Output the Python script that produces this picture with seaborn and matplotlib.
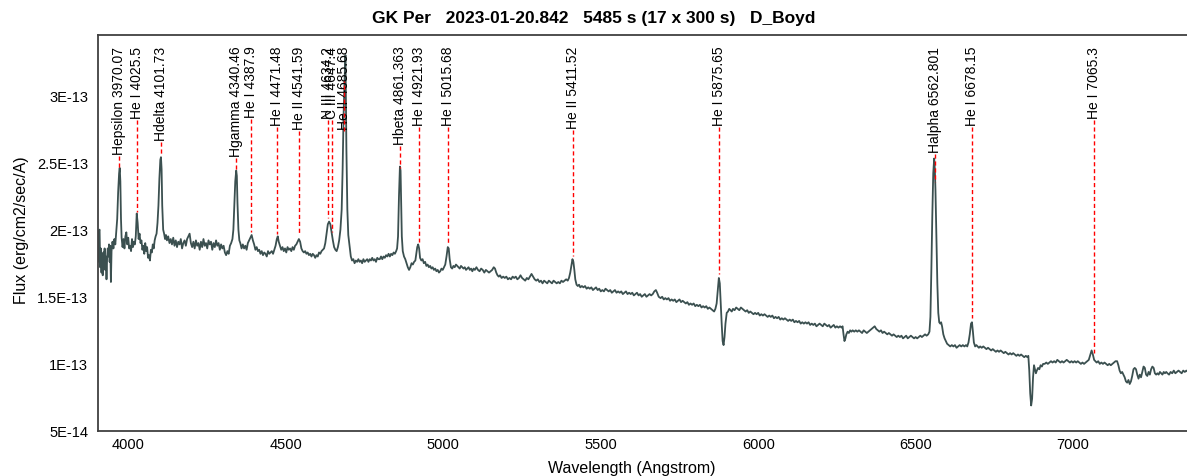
import numpy as np
import matplotlib
matplotlib.use("Agg")
import matplotlib.pyplot as plt
from matplotlib.ticker import FixedLocator, FixedFormatter, MultipleLocator
import seaborn as sns

# Spectrum of GK Per (wavelength in Angstrom, flux in units of 1E-13 erg/cm2/sec/A)
WAVELENGTH = [
    3903, 3905, 3908, 3910, 3912, 3914, 3916, 3918, 3920, 3922, 3924, 3926, 3928, 3930, 3932, 3934,
    3936, 3938, 3940, 3942, 3944, 3946, 3949, 3952, 3955, 3958, 3961, 3964, 3967, 3970, 3972, 3974,
    3976, 3978, 3981, 3984, 3987, 3990, 3993, 3996, 3999, 4002, 4005, 4008, 4011, 4014, 4017, 4020,
    4023, 4026, 4029, 4032, 4035, 4038, 4041, 4044, 4047, 4050, 4053, 4056, 4059, 4062, 4065, 4068,
    4071, 4074, 4077, 4080, 4083, 4086, 4089, 4092, 4095, 4098, 4101, 4103, 4105, 4107, 4110, 4113,
    4116, 4119, 4122, 4126, 4130, 4134, 4138, 4142, 4146, 4150, 4154, 4158, 4162, 4166, 4170, 4174,
    4178, 4182, 4186, 4190, 4194, 4198, 4202, 4206, 4210, 4214, 4218, 4222, 4226, 4230, 4234, 4238,
    4242, 4246, 4250, 4254, 4258, 4262, 4266, 4270, 4274, 4278, 4282, 4286, 4290, 4294, 4298, 4302,
    4306, 4310, 4314, 4318, 4322, 4326, 4330, 4333, 4336, 4339, 4342, 4344, 4346, 4349, 4352, 4355,
    4359, 4363, 4367, 4371, 4375, 4379, 4383, 4387, 4391, 4395, 4399, 4403, 4407, 4411, 4415, 4419,
    4423, 4427, 4431, 4435, 4439, 4443, 4447, 4451, 4455, 4459, 4463, 4467, 4471, 4474, 4477, 4481,
    4485, 4489, 4493, 4497, 4501, 4505, 4509, 4513, 4517, 4521, 4525, 4529, 4533, 4537, 4541, 4545,
    4549, 4553, 4557, 4561, 4565, 4569, 4573, 4577, 4581, 4585, 4589, 4593, 4597, 4601, 4605, 4609,
    4613, 4617, 4621, 4625, 4629, 4633, 4637, 4641, 4645, 4649, 4653, 4657, 4661, 4665, 4669, 4673,
    4677, 4680, 4683, 4686, 4689, 4692, 4695, 4698, 4702, 4706, 4710, 4714, 4718, 4722, 4726, 4730,
    4734, 4738, 4742, 4746, 4750, 4754, 4758, 4762, 4766, 4770, 4774, 4778, 4782, 4786, 4790, 4794,
    4798, 4802, 4806, 4810, 4814, 4818, 4822, 4826, 4830, 4834, 4838, 4842, 4846, 4850, 4853, 4856,
    4859, 4862, 4864, 4866, 4868, 4871, 4875, 4879, 4883, 4887, 4891, 4895, 4899, 4903, 4907, 4911,
    4914, 4917, 4920, 4923, 4926, 4930, 4934, 4938, 4942, 4946, 4950, 4954, 4958, 4962, 4966, 4970,
    4974, 4978, 4982, 4986, 4990, 4994, 4998, 5002, 5006, 5010, 5014, 5017, 5020, 5024, 5028, 5032,
    5036, 5040, 5044, 5048, 5052, 5056, 5060, 5064, 5068, 5072, 5076, 5080, 5084, 5088, 5092, 5096,
    5100, 5105, 5110, 5115, 5120, 5125, 5130, 5135, 5140, 5145, 5150, 5155, 5160, 5164, 5168, 5172,
    5176, 5180, 5185, 5190, 5195, 5200, 5205, 5210, 5215, 5220, 5225, 5230, 5235, 5240, 5245, 5250,
    5255, 5260, 5265, 5270, 5275, 5280, 5285, 5290, 5295, 5300, 5305, 5310, 5315, 5320, 5325, 5330,
    5335, 5340, 5345, 5350, 5355, 5360, 5365, 5370, 5375, 5380, 5385, 5390, 5395, 5399, 5403, 5407,
    5410, 5413, 5416, 5419, 5423, 5427, 5431, 5435, 5440, 5445, 5450, 5455, 5460, 5465, 5470, 5475,
    5480, 5485, 5490, 5495, 5500, 5505, 5510, 5515, 5520, 5525, 5530, 5535, 5540, 5545, 5550, 5555,
    5560, 5565, 5570, 5575, 5580, 5585, 5590, 5595, 5600, 5605, 5610, 5615, 5620, 5625, 5630, 5635,
    5640, 5645, 5650, 5655, 5660, 5665, 5670, 5675, 5679, 5684, 5690, 5695, 5700, 5705, 5710, 5715,
    5720, 5725, 5730, 5735, 5740, 5745, 5750, 5755, 5760, 5765, 5770, 5775, 5780, 5785, 5790, 5795,
    5800, 5805, 5810, 5815, 5820, 5825, 5830, 5835, 5840, 5845, 5850, 5855, 5860, 5864, 5868, 5872,
    5875, 5878, 5881, 5884, 5887, 5890, 5893, 5896, 5900, 5904, 5908, 5912, 5916, 5920, 5925, 5930,
    5935, 5940, 5945, 5950, 5955, 5960, 5965, 5970, 5975, 5980, 5985, 5990, 5995, 6000, 6005, 6010,
    6015, 6020, 6025, 6030, 6035, 6040, 6045, 6050, 6055, 6060, 6065, 6070, 6075, 6080, 6085, 6090,
    6095, 6100, 6105, 6110, 6115, 6120, 6125, 6130, 6135, 6140, 6145, 6150, 6155, 6160, 6165, 6170,
    6175, 6180, 6185, 6190, 6195, 6200, 6205, 6210, 6215, 6220, 6225, 6230, 6235, 6240, 6245, 6250,
    6255, 6260, 6265, 6268, 6271, 6274, 6277, 6280, 6284, 6288, 6292, 6296, 6300, 6305, 6310, 6315,
    6320, 6325, 6330, 6335, 6340, 6345, 6350, 6355, 6360, 6365, 6370, 6375, 6380, 6385, 6390, 6395,
    6400, 6405, 6410, 6415, 6420, 6425, 6430, 6435, 6440, 6445, 6450, 6455, 6460, 6465, 6470, 6475,
    6480, 6485, 6490, 6495, 6500, 6505, 6510, 6515, 6520, 6525, 6530, 6535, 6540, 6544, 6547, 6550,
    6553, 6556, 6559, 6561, 6563, 6566, 6569, 6572, 6575, 6578, 6581, 6584, 6588, 6592, 6596, 6600,
    6605, 6610, 6615, 6620, 6625, 6630, 6635, 6640, 6645, 6650, 6655, 6660, 6664, 6668, 6672, 6676,
    6679, 6682, 6685, 6689, 6693, 6697, 6701, 6705, 6710, 6715, 6720, 6725, 6730, 6735, 6740, 6745,
    6750, 6755, 6760, 6765, 6770, 6775, 6780, 6785, 6790, 6795, 6800, 6805, 6810, 6815, 6820, 6825,
    6830, 6835, 6840, 6845, 6850, 6855, 6858, 6861, 6864, 6867, 6870, 6873, 6876, 6879, 6882, 6885,
    6889, 6893, 6897, 6901, 6905, 6910, 6915, 6920, 6925, 6930, 6935, 6940, 6945, 6950, 6955, 6960,
    6965, 6970, 6975, 6980, 6985, 6990, 6995, 7000, 7005, 7010, 7015, 7020, 7025, 7030, 7035, 7040,
    7045, 7050, 7055, 7059, 7063, 7067, 7071, 7075, 7080, 7085, 7090, 7095, 7100, 7105, 7110, 7115,
    7120, 7125, 7130, 7135, 7140, 7144, 7148, 7152, 7156, 7160, 7164, 7168, 7172, 7176, 7180, 7184,
    7188, 7192, 7196, 7200, 7204, 7208, 7212, 7216, 7220, 7224, 7228, 7232, 7236, 7240, 7244, 7248,
    7252, 7256, 7260, 7264, 7268, 7272, 7276, 7280, 7284, 7288, 7292, 7296, 7300, 7305, 7310, 7315,
    7320, 7325, 7330, 7335, 7340, 7345, 7350, 7355, 7360, 7365,
]

FLUX_E13 = [
    1.76, 1.99, 2.00, 1.72, 1.86, 1.68, 1.81, 1.66, 1.83, 1.74, 1.86, 1.70, 1.80, 1.63, 1.79, 1.86,
    1.80, 1.89, 1.76, 1.88, 1.61, 1.84, 1.91, 1.86, 1.93, 1.89, 1.99, 2.08, 2.28, 2.42, 2.46, 2.36,
    2.08, 1.94, 1.87, 1.93, 1.86, 1.95, 1.98, 1.89, 1.94, 1.86, 1.88, 1.84, 1.93, 1.87, 1.91, 1.89,
    1.95, 2.12, 2.05, 1.93, 1.97, 1.90, 1.92, 1.85, 1.88, 1.82, 1.90, 1.84, 1.87, 1.79, 1.81, 1.77,
    1.85, 1.83, 1.89, 1.86, 1.92, 1.95, 1.97, 2.05, 2.18, 2.38, 2.52, 2.54, 2.45, 2.18, 2.00, 1.97,
    1.93, 1.96, 1.92, 1.95, 1.90, 1.93, 1.89, 1.94, 1.88, 1.92, 1.87, 1.91, 1.89, 1.93, 1.86, 1.90,
    1.92, 1.88, 1.93, 1.95, 1.97, 1.90, 1.87, 1.91, 1.86, 1.92, 1.88, 1.90, 1.85, 1.91, 1.87, 1.93,
    1.88, 1.90, 1.86, 1.92, 1.89, 1.91, 1.85, 1.90, 1.87, 1.92, 1.88, 1.90, 1.85, 1.89, 1.86, 1.88,
    1.83, 1.81, 1.84, 1.82, 1.88, 1.90, 1.93, 2.00, 2.18, 2.36, 2.44, 2.40, 2.20, 2.00, 1.92, 1.90,
    1.86, 1.89, 1.86, 1.88, 1.85, 1.90, 1.92, 1.94, 1.96, 1.92, 1.89, 1.85, 1.87, 1.84, 1.85, 1.82,
    1.84, 1.81, 1.83, 1.82, 1.80, 1.84, 1.82, 1.83, 1.84, 1.82, 1.85, 1.88, 1.93, 1.95, 1.91, 1.88,
    1.85, 1.87, 1.84, 1.86, 1.83, 1.87, 1.85, 1.86, 1.84, 1.87, 1.85, 1.88, 1.89, 1.91, 1.93, 1.91,
    1.86, 1.84, 1.83, 1.84, 1.82, 1.83, 1.81, 1.82, 1.80, 1.82, 1.81, 1.79, 1.81, 1.80, 1.83, 1.82,
    1.84, 1.85, 1.86, 1.90, 1.97, 2.04, 2.06, 2.04, 1.98, 1.92, 1.87, 1.85, 1.84, 1.87, 1.92, 2.00,
    2.15, 2.45, 2.85, 3.10, 3.30, 2.60, 2.15, 1.96, 1.88, 1.80, 1.77, 1.78, 1.75, 1.77, 1.76, 1.78,
    1.76, 1.77, 1.75, 1.78, 1.76, 1.77, 1.78, 1.76, 1.78, 1.77, 1.79, 1.77, 1.78, 1.76, 1.79, 1.78,
    1.78, 1.80, 1.78, 1.80, 1.79, 1.81, 1.80, 1.82, 1.80, 1.82, 1.81, 1.83, 1.82, 1.84, 1.86, 1.95,
    2.25, 2.47, 2.44, 2.20, 1.95, 1.84, 1.80, 1.78, 1.75, 1.72, 1.70, 1.72, 1.75, 1.74, 1.76, 1.77,
    1.82, 1.87, 1.89, 1.86, 1.79, 1.77, 1.78, 1.75, 1.76, 1.73, 1.74, 1.72, 1.73, 1.71, 1.72, 1.70,
    1.71, 1.69, 1.70, 1.68, 1.69, 1.71, 1.70, 1.72, 1.74, 1.80, 1.87, 1.86, 1.78, 1.72, 1.71, 1.73,
    1.72, 1.74, 1.73, 1.72, 1.71, 1.73, 1.72, 1.71, 1.72, 1.70, 1.71, 1.72, 1.70, 1.71, 1.69, 1.71,
    1.70, 1.72, 1.70, 1.69, 1.71, 1.70, 1.68, 1.70, 1.69, 1.68, 1.69, 1.70, 1.72, 1.71, 1.68, 1.66,
    1.65, 1.66, 1.64, 1.65, 1.64, 1.65, 1.63, 1.64, 1.63, 1.65, 1.64, 1.65, 1.63, 1.64, 1.66, 1.64,
    1.63, 1.62, 1.64, 1.63, 1.65, 1.67, 1.65, 1.63, 1.62, 1.63, 1.61, 1.62, 1.60, 1.62, 1.61, 1.60,
    1.62, 1.61, 1.60, 1.62, 1.61, 1.60, 1.61, 1.60, 1.62, 1.61, 1.62, 1.63, 1.62, 1.64, 1.68, 1.74,
    1.78, 1.76, 1.70, 1.63, 1.59, 1.58, 1.59, 1.57, 1.58, 1.57, 1.58, 1.56, 1.57, 1.56, 1.57, 1.55,
    1.56, 1.57, 1.55, 1.56, 1.54, 1.55, 1.54, 1.56, 1.55, 1.54, 1.55, 1.53, 1.54, 1.55, 1.53, 1.54,
    1.53, 1.54, 1.52, 1.53, 1.54, 1.52, 1.53, 1.52, 1.53, 1.51, 1.52, 1.53, 1.51, 1.52, 1.50, 1.51,
    1.52, 1.50, 1.51, 1.52, 1.51, 1.52, 1.54, 1.55, 1.53, 1.50, 1.49, 1.50, 1.48, 1.49, 1.48, 1.49,
    1.47, 1.48, 1.47, 1.48, 1.46, 1.47, 1.48, 1.46, 1.47, 1.46, 1.45, 1.46, 1.44, 1.45, 1.44, 1.45,
    1.43, 1.44, 1.43, 1.44, 1.42, 1.43, 1.42, 1.43, 1.41, 1.42, 1.41, 1.40, 1.39, 1.41, 1.45, 1.56,
    1.64, 1.60, 1.45, 1.30, 1.17, 1.14, 1.20, 1.30, 1.38, 1.39, 1.41, 1.40, 1.39, 1.41, 1.40, 1.42,
    1.41, 1.40, 1.42, 1.41, 1.40, 1.39, 1.40, 1.38, 1.39, 1.38, 1.37, 1.38, 1.37, 1.38, 1.36, 1.37,
    1.36, 1.37, 1.36, 1.35, 1.36, 1.35, 1.36, 1.34, 1.35, 1.34, 1.35, 1.33, 1.34, 1.33, 1.34, 1.33,
    1.32, 1.33, 1.32, 1.33, 1.31, 1.32, 1.31, 1.32, 1.30, 1.31, 1.30, 1.31, 1.30, 1.31, 1.29, 1.30,
    1.29, 1.30, 1.28, 1.29, 1.30, 1.29, 1.28, 1.30, 1.29, 1.28, 1.29, 1.27, 1.28, 1.29, 1.27, 1.28,
    1.27, 1.28, 1.27, 1.28, 1.22, 1.17, 1.19, 1.22, 1.24, 1.23, 1.25, 1.24, 1.25, 1.24, 1.25, 1.24,
    1.25, 1.24, 1.23, 1.25, 1.24, 1.23, 1.24, 1.25, 1.26, 1.27, 1.28, 1.26, 1.25, 1.24, 1.25, 1.23,
    1.24, 1.23, 1.22, 1.23, 1.22, 1.21, 1.22, 1.21, 1.20, 1.21, 1.20, 1.21, 1.19, 1.20, 1.21, 1.19,
    1.20, 1.21, 1.20, 1.19, 1.20, 1.19, 1.20, 1.21, 1.20, 1.21, 1.22, 1.21, 1.22, 1.24, 1.35, 1.70,
    2.10, 2.42, 2.53, 2.45, 2.30, 1.95, 1.60, 1.38, 1.31, 1.30, 1.31, 1.28, 1.22, 1.19, 1.17, 1.15,
    1.14, 1.13, 1.14, 1.13, 1.14, 1.12, 1.13, 1.14, 1.13, 1.14, 1.13, 1.14, 1.13, 1.16, 1.22, 1.30,
    1.31, 1.24, 1.16, 1.13, 1.14, 1.13, 1.12, 1.13, 1.12, 1.13, 1.12, 1.11, 1.12, 1.11, 1.10, 1.11,
    1.10, 1.09, 1.10, 1.09, 1.10, 1.09, 1.08, 1.09, 1.08, 1.07, 1.08, 1.07, 1.08, 1.07, 1.06, 1.07,
    1.06, 1.07, 1.06, 1.05, 1.06, 1.05, 1.06, 0.95, 0.78, 0.69, 0.74, 0.90, 0.99, 0.96, 0.93, 0.95,
    0.97, 0.96, 0.99, 0.98, 1.00, 1.00, 1.01, 1.00, 1.01, 1.02, 1.01, 1.02, 1.01, 1.03, 1.02, 1.01,
    1.02, 1.01, 1.02, 1.03, 1.02, 1.01, 1.02, 1.01, 1.02, 1.01, 1.02, 1.01, 1.00, 1.01, 1.00, 1.01,
    1.02, 1.03, 1.07, 1.10, 1.07, 1.03, 1.02, 1.01, 1.02, 1.00, 1.01, 1.00, 1.01, 1.00, 0.99, 1.00,
    0.99, 1.00, 1.01, 1.02, 1.02, 0.99, 0.95, 0.93, 0.94, 0.92, 0.90, 0.87, 0.86, 0.88, 0.85, 0.87,
    0.91, 0.96, 0.97, 0.96, 0.92, 0.89, 0.92, 0.90, 0.94, 0.98, 0.97, 0.92, 0.91, 0.94, 0.92, 0.96,
    0.98, 0.97, 0.93, 0.92, 0.93, 0.92, 0.94, 0.93, 0.92, 0.94, 0.93, 0.94, 0.93, 0.92, 0.94, 0.93,
    0.95, 0.93, 0.94, 0.95, 0.94, 0.93, 0.95, 0.94, 0.95, 0.94,
]

# Identified emission lines
LINE_WAVELENGTHS = [
    3970.07, 4025.5, 4101.73, 4340.46, 4387.9, 4471.48, 4541.59, 4634.2, 4647.4,
    4685.68, 4861.363, 4921.93, 5015.68, 5411.52, 5875.65, 6562.801, 6678.15, 7065.3,
]
LINE_LABELS = [
    "Hepsilon 3970.07", "He I 4025.5", "Hdelta 4101.73", "Hgamma 4340.46", "He I 4387.9",
    "He I 4471.48", "He II 4541.59", "N III 4634.2", "C III 4647.4", "He II 4685.68",
    "Hbeta 4861.363", "He I 4921.93", "He I 5015.68", "He II 5411.52", "He I 5875.65",
    "Halpha 6562.801", "He I 6678.15", "He I 7065.3",
]

X_TICKS = [4000, 4500, 5000, 5500, 6000, 6500, 7000]
Y_TICKS = [0.5e-13, 1.0e-13, 1.5e-13, 2.0e-13, 2.5e-13, 3.0e-13]
Y_TICK_LABELS = ["5E-14", "1E-13", "1.5E-13", "2E-13", "2.5E-13", "3E-13"]

TITLE = "GK Per   2023-01-20.842   5485 s (17 x 300 s)   D_Boyd"

sns.set_style("white")
plt.rcParams["font.family"] = ["Liberation Sans", "DejaVu Sans"]
plt.rcParams["text.color"] = "black"
plt.rcParams["axes.labelcolor"] = "black"
plt.rcParams["xtick.labelcolor"] = "black"
plt.rcParams["ytick.labelcolor"] = "black"

wave = np.array(WAVELENGTH, dtype=float)
flux = np.array(FLUX_E13) * 1e-13

W, H, DPI = 1187, 477, 100
fig = plt.figure(figsize=(W / DPI, H / DPI), dpi=DPI)
ax = fig.add_axes([98 / W, 1 - 432 / H, (1187 - 98) / W, (432 - 36) / H])

sns.lineplot(x=wave, y=flux, ax=ax, color="#3b5050", linewidth=1.3, sort=False)

ax.set_xlim(3903, 7362)
ax.set_ylim(0.5e-13, 3.45e-13)

ax.xaxis.set_major_locator(FixedLocator(X_TICKS))
ax.xaxis.set_minor_locator(MultipleLocator(100))
ax.yaxis.set_major_locator(FixedLocator(Y_TICKS))
ax.yaxis.set_major_formatter(FixedFormatter(Y_TICK_LABELS))
ax.yaxis.set_minor_locator(MultipleLocator(0.1e-13))

ax.tick_params(axis="x", which="major", direction="in", length=7, width=1, color="#404040",
               labelsize=10.5, pad=4, labelcolor="black")
ax.tick_params(axis="x", which="minor", direction="in", length=4, width=0.8, color="#808080")
ax.tick_params(axis="y", which="major", direction="out", length=5, width=1, color="#404040",
               labelsize=10.5, pad=2, labelcolor="black")
ax.tick_params(axis="y", which="minor", direction="in", length=5, width=0.8, color="#808080")

for side in ("left", "bottom", "top"):
    ax.spines[side].set_color("#404040")
    ax.spines[side].set_linewidth(1.3)
ax.spines["right"].set_visible(False)

ax.set_xlabel("Wavelength (Angstrom)", fontsize=11.5, color="black")
ax.set_ylabel("Flux (erg/cm2/sec/A)", fontsize=11.5, color="black")
ax.xaxis.set_label_coords(0.49, -0.073)
ax.yaxis.set_label_coords(-0.063, 0.51)

fig.text(0.5, 1 - 18 / H, TITLE, ha="center", va="center", fontsize=12.5,
         fontweight="bold", color="black")

# Rotated line identifications hanging from the top of the plot
label_top = 3.37e-13
texts = [ax.text(wl, label_top, lab, rotation=90, ha="center", va="top", fontsize=10,
                 color="black")
         for wl, lab in zip(LINE_WAVELENGTHS, LINE_LABELS)]

fig.canvas.draw()
renderer = fig.canvas.get_renderer()
to_px = ax.transData
to_data = ax.transData.inverted()
for wl, t in zip(LINE_WAVELENGTHS, texts):
    bb = t.get_window_extent(renderer)
    y_text = to_data.transform((bb.x0, bb.y0 - 2))[1]
    f = np.interp(wl, wave, flux)
    px = to_px.transform((wl, f))
    y_spec = to_data.transform((px[0], px[1] + 5))[1]
    ax.plot([wl, wl], [y_text, y_spec], color="#ff0000", linewidth=1.0,
            linestyle=(0, (3, 2)), zorder=3)

fig.savefig("out.png", dpi=DPI)
